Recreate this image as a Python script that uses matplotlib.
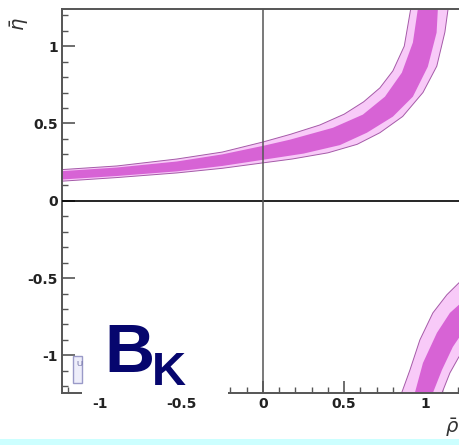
import numpy as np
import matplotlib
matplotlib.use('Agg')
import matplotlib.pyplot as plt
from matplotlib.patches import Rectangle

plt.rcParams['font.family'] = ['Liberation Sans', 'DejaVu Sans']
plt.rcParams['axes.unicode_minus'] = False

# upper branch of the B_K band (rho-bar, eta-bar), edges
hi_outer_rho = [-1.26, -0.9, -0.53, -0.25, 0.0, 0.17, 0.35, 0.5, 0.62, 0.72, 0.8, 0.87, 0.91, 0.925]
hi_outer_eta = [0.20, 0.225, 0.27, 0.315, 0.38, 0.43, 0.49, 0.56, 0.64, 0.73, 0.84, 1.0, 1.243, 1.36]
hi_dark_rho = [-1.26, -0.9, -0.53, -0.25, 0.0, 0.166, 0.431, 0.615, 0.751, 0.855, 0.923, 0.954, 0.965]
hi_dark_eta = [0.19, 0.215, 0.254, 0.30, 0.355, 0.395, 0.472, 0.557, 0.673, 0.828, 1.023, 1.243, 1.36]
lo_dark_rho = [-1.26, -0.9, -0.53, -0.25, 0.0, 0.25, 0.474, 0.64, 0.8, 0.923, 1.015, 1.069, 1.077, 1.082]
lo_dark_eta = [0.136, 0.16, 0.19, 0.225, 0.265, 0.305, 0.36, 0.44, 0.544, 0.673, 0.867, 1.087, 1.243, 1.36]
lo_outer_rho = [-1.26, -0.9, -0.53, -0.25, 0.0, 0.18, 0.4, 0.58, 0.72, 0.86, 0.985, 1.07, 1.12, 1.14, 1.15]
lo_outer_eta = [0.125, 0.15, 0.18, 0.21, 0.245, 0.27, 0.31, 0.365, 0.44, 0.545, 0.7, 0.87, 1.09, 1.243, 1.36]

# lower arc
arc_outer_l_rho = [0.83, 0.853, 0.905, 0.966, 1.046, 1.132, 1.206, 1.3]
arc_outer_l_eta = [-1.32, -1.245, -1.094, -0.9, -0.725, -0.608, -0.531, -0.46]
arc_dark_l_rho = [0.92, 0.935, 0.985, 1.071, 1.151, 1.206, 1.3]
arc_dark_l_eta = [-1.32, -1.243, -1.049, -0.854, -0.725, -0.673, -0.61]
arc_dark_r_rho = [1.03, 1.046, 1.102, 1.169, 1.206, 1.3]
arc_dark_r_eta = [-1.32, -1.243, -1.094, -0.945, -0.887, -0.8]
arc_outer_r_rho = [1.09, 1.102, 1.151, 1.206, 1.3]
arc_outer_r_eta = [-1.32, -1.243, -1.113, -1.01, -0.9]

major_ticks = [-1, -0.5, 0, 0.5, 1]
tick_labels = ['-1', '-0.5', '0', '0.5', '1']

light = '#f8caf8'
dark = '#d763d5'
edge = '#a55aa8'

fig = plt.figure(figsize=(4.59, 4.45), dpi=100)
ax = fig.add_axes([62/459, 52/445, 404/459, 384/445])
ax.set_xlim(-1.237, 1.25)
ax.set_ylim(-1.243, 1.24)


def band(r1, e1, r2, e2, color, ec='none', lw=0):
    xs = np.r_[r1, r2[::-1]]
    ys = np.r_[e1, e2[::-1]]
    ax.fill(xs, ys, facecolor=color, edgecolor=ec, lw=lw, zorder=2,
            joinstyle='round')


band(hi_outer_rho, hi_outer_eta, lo_outer_rho, lo_outer_eta, light, edge, 0.7)
band(hi_dark_rho, hi_dark_eta, lo_dark_rho, lo_dark_eta, dark)
band(arc_outer_l_rho, arc_outer_l_eta, arc_outer_r_rho, arc_outer_r_eta, light, edge, 0.7)
band(arc_dark_l_rho, arc_dark_l_eta, arc_dark_r_rho, arc_dark_r_eta, dark)

ax.axhline(0, color='black', lw=1.2, zorder=3)
ax.axvline(0, color='#555555', lw=1.1, zorder=3)

for s in ['left', 'bottom', 'top']:
    ax.spines[s].set_color('#555555')
    ax.spines[s].set_linewidth(1.4)
ax.spines['right'].set_visible(False)

ax.set_xticks(major_ticks)
ax.set_xticklabels(tick_labels)
ax.set_yticks(major_ticks)
ax.set_yticklabels(tick_labels)
ax.set_xticks(np.arange(-1.2, 1.25, 0.1), minor=True)
ax.set_yticks(np.arange(-1.2, 1.25, 0.1), minor=True)
ax.tick_params(which='major', direction='in', length=9, width=1.2, color='#555555',
               labelsize=10, pad=3)
ax.tick_params(which='minor', direction='in', length=4, width=1.0, color='#555555')
for lab in ax.get_xticklabels() + ax.get_yticklabels():
    lab.set_family('DejaVu Sans')
    lab.set_fontweight('bold')
    lab.set_color('#222222')

# white box behind the B_K label, and the little logo box
fig.add_artist(Rectangle((82/459, 49/445), 146/459, 100/445, facecolor='white',
                         edgecolor='none', transform=fig.transFigure, zorder=5))
fig.add_artist(Rectangle((73/459, 62/445), 9/459, 27/445, facecolor='#eeeefa',
                         edgecolor='#9a9ac8', lw=1, transform=fig.transFigure, zorder=6))
fig.text(76/459, 80/445, 'U', fontsize=6, color='#6a6aa0', ha='left', va='center', zorder=7)

fig.text(104/459, 73/445, 'B', fontsize=50, fontweight='bold', color='#06066e',
         ha='left', va='baseline', zorder=7)
fig.text(152/459, 60/445, 'K', fontsize=34, fontweight='bold', color='#06066e',
         ha='left', va='baseline', zorder=7)

fig.text(20/459, 421/445, r'$\bar{\eta}$', fontsize=14, rotation=90,
         ha='center', va='center', color='#333333')
fig.text(452/459, 17/445, r'$\bar{\rho}$', fontsize=14,
         ha='center', va='center', color='#333333')

# light cyan strip at the bottom
fig.add_artist(Rectangle((0, 0), 1, 6/445, facecolor='#ccffff', edgecolor='none',
                         transform=fig.transFigure, zorder=8))

plt.savefig('out.png', dpi=100)
